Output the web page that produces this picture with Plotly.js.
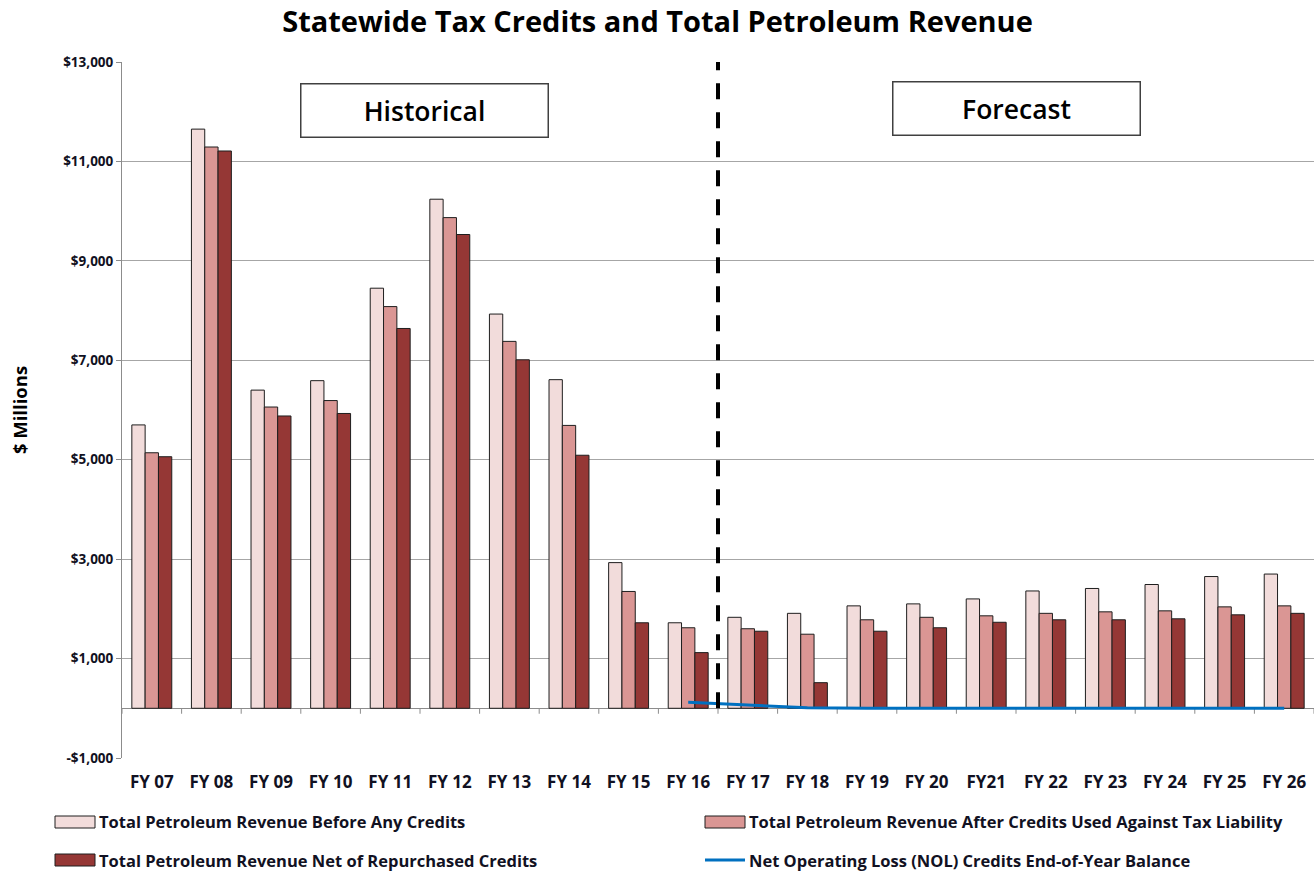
<!DOCTYPE html>
<html><head><meta charset="utf-8">
<script src="https://cdn.plot.ly/plotly-3.0.1.min.js"></script>
<style>html,body{margin:0;padding:0;background:#fff}#chart{width:1315px;height:871px}</style>
</head><body><div id="chart"></div>
<script>
const categories = ['FY 07','FY 08','FY 09','FY 10','FY 11','FY 12','FY 13','FY 14','FY 15','FY 16',
                    'FY 17','FY 18','FY 19','FY 20','FY21','FY 22','FY 23','FY 24','FY 25','FY 26'];
const revenueBeforeCredits = [5700,11650,6400,6590,8450,10240,7930,6610,2930,1720,1830,1910,2060,2100,2200,2360,2410,2490,2650,2700];
const revenueAfterCredits  = [5140,11290,6060,6190,8080,9870,7380,5690,2350,1620,1600,1490,1780,1830,1860,1910,1940,1960,2040,2060];
const revenueNetRepurchased = [5060,11210,5880,5930,7640,9530,7010,5090,1720,1120,1550,515,1550,1620,1730,1780,1780,1800,1880,1910];
const nolBalance = [null,null,null,null,null,null,null,null,null,120,60,10,0,0,0,0,0,0,0,0];
const yTickVals = [-1000,1000,3000,5000,7000,9000,11000,13000];
const yTickText = ['-$1,000','$1,000','$3,000','$5,000','$7,000','$9,000','$11,000','$13,000'];
const seriesNames = ['Total Petroleum Revenue Before Any Credits',
                     'Total Petroleum Revenue After Credits Used Against Tax Liability',
                     'Total Petroleum Revenue Net of Repurchased Credits',
                     'Net Operating Loss (NOL) Credits End-of-Year Balance'];
const colors = ['#F2DCDB','#DA9694','#953735','#0070C0'];
const forecastStartIndex = 10;

const W = 1315, H = 871, ML = 122, MR = 1, MT = 62, MB = 113;
const FONT = '"Open Sans", Lato, sans-serif';
const TXT = '#111122';
const px2x = p => (p - ML) / (W - ML - MR);
const py2y = p => (H - MB - p) / (H - MT - MB);

const barLine = {color: '#1e1e1e', width: 1};
const traces = [
  {type:'bar', x:categories, y:revenueBeforeCredits, name:seriesNames[0], marker:{color:colors[0], line:barLine}},
  {type:'bar', x:categories, y:revenueAfterCredits, name:seriesNames[1], marker:{color:colors[1], line:barLine}},
  {type:'bar', x:categories, y:revenueNetRepurchased, name:seriesNames[2], marker:{color:colors[2], line:barLine}},
  {type:'scatter', mode:'lines', x:categories, y:nolBalance, name:seriesNames[3], line:{color:colors[3], width:3}}
];

const shapes = [];
for (let i = 0; i <= categories.length; i++) {
  shapes.push({type:'line', xref:'x', yref:'y', x0:i-0.5, x1:i-0.5, y0:0, y1:-110, line:{color:'#8c8c8c', width:1}, layer:'below'});
}
shapes.push({type:'line', xref:'x', yref:'y', x0:forecastStartIndex-0.5, x1:forecastStartIndex-0.5, y0:0, y1:13000,
  line:{color:'#000', width:4, dash:'16px,13px'}});

const boxFont = {family:FONT, size:26.5, color:'#000', weight:600};
const annotations = [
  {text:'Historical', xref:'paper', yref:'paper', x:px2x(424), y:py2y(110), xanchor:'center', yanchor:'middle', showarrow:false,
   width:246, height:52, borderpad:0, bordercolor:'#404040', borderwidth:1.5, bgcolor:'#fff', font:boxFont},
  {text:'Forecast', xref:'paper', yref:'paper', x:px2x(1016), y:py2y(109), xanchor:'center', yanchor:'middle', showarrow:false,
   width:246, height:52, borderpad:0, bordercolor:'#404040', borderwidth:1.5, bgcolor:'#fff', font:boxFont}
];

const legendItems = [
  {i:0, sx:55, ty:822}, {i:1, sx:705, ty:822}, {i:2, sx:55, ty:860}, {i:3, sx:705, ty:860}
];
legendItems.forEach(it => {
  if (it.i < 3) {
    shapes.push({type:'rect', xref:'paper', yref:'paper', x0:px2x(it.sx), x1:px2x(it.sx+40),
      y0:py2y(it.ty+6), y1:py2y(it.ty-6), fillcolor:colors[it.i], line:{color:'#1e1e1e', width:1}});
  } else {
    shapes.push({type:'line', xref:'paper', yref:'paper', x0:px2x(it.sx), x1:px2x(it.sx+40),
      y0:py2y(it.ty), y1:py2y(it.ty), line:{color:colors[3], width:3}});
  }
  annotations.push({text:seriesNames[it.i], xref:'paper', yref:'paper', x:px2x(it.sx+42), y:py2y(it.ty),
    xanchor:'left', yanchor:'middle', showarrow:false, font:{family:FONT, size:16.5, color:TXT, weight:700}});
});

const layout = {
  width:W, height:H, margin:{l:ML, r:MR, t:MT, b:MB, pad:0},
  paper_bgcolor:'#fff', plot_bgcolor:'#fff',
  showlegend:false, barmode:'group', bargap:0.33, bargroupgap:0,
  title:{text:'Statewide Tax Credits and Total Petroleum Revenue', xref:'container', x:0.5, xanchor:'center',
    yref:'container', y:1-22/H, yanchor:'middle', font:{family:FONT, size:29, color:'#000', weight:700}},
  xaxis:{type:'category', range:[-0.5, categories.length-0.5], showgrid:false, showline:false, zeroline:false,
    ticks:'outside', ticklen:9, tickcolor:'rgba(0,0,0,0)', fixedrange:true,
    tickfont:{family:FONT, size:17, color:TXT, weight:700}},
  yaxis:{range:[-1000,13000], tickvals:yTickVals, ticktext:yTickText, showgrid:true, gridcolor:'#a6a6a6', gridwidth:1,
    zeroline:true, zerolinecolor:'#8c8c8c', zerolinewidth:1,
    showline:true, linecolor:'#8c8c8c', linewidth:1, ticks:'outside', ticklen:5, tickcolor:'#8c8c8c',
    tickfont:{family:FONT, size:13.5, color:TXT, weight:700},
    title:{text:'$ Millions', standoff:30, font:{family:FONT, size:18.5, color:'#000', weight:700}}},
  shapes:shapes, annotations:annotations
};
Plotly.newPlot('chart', traces, layout, {displayModeBar:false, staticPlot:true});
</script></body></html>
